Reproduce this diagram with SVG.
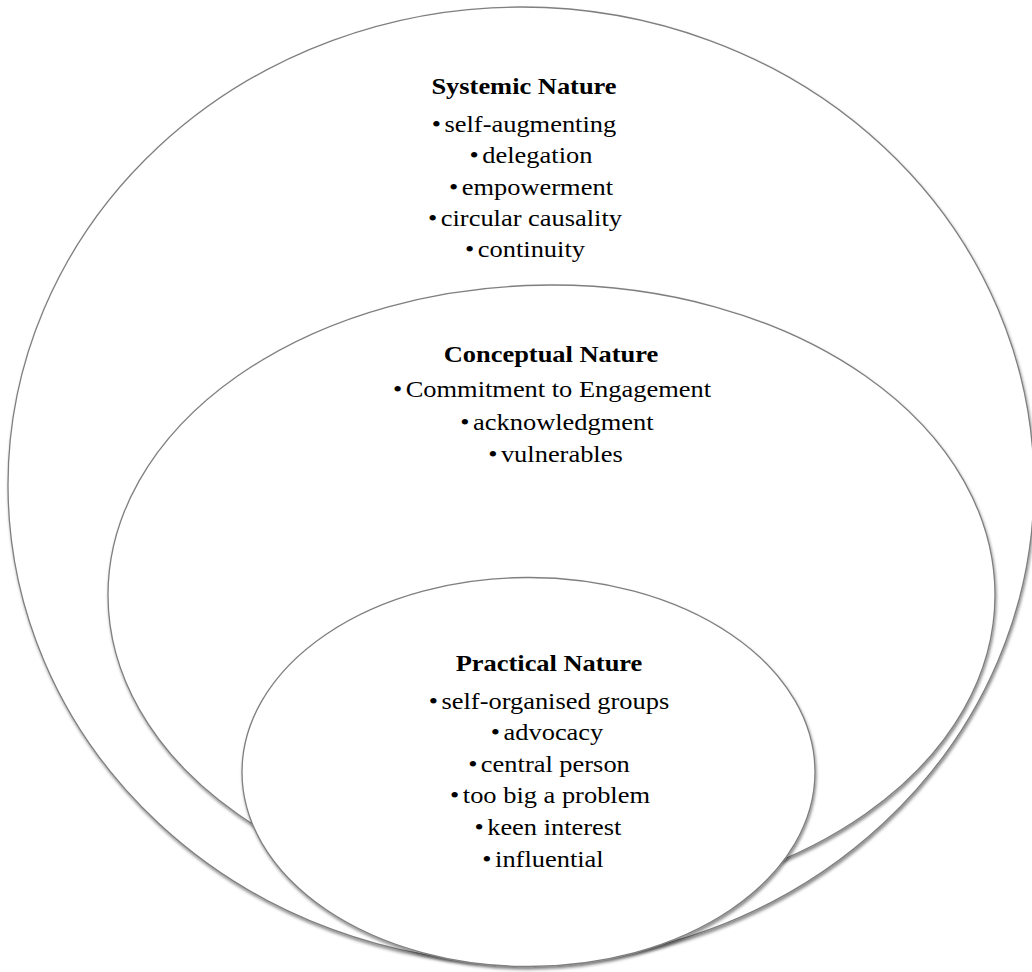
<svg xmlns="http://www.w3.org/2000/svg" width="1032" height="972" viewBox="0 0 1032 972">
  <defs>
    <filter id="shade" x="-5%" y="-5%" width="110%" height="112%">
      <feDropShadow dx="1" dy="2.5" stdDeviation="1.6" flood-color="#000" flood-opacity="0.45"/>
    </filter>
  </defs>
  <style>
    .ring { fill: #ffffff; stroke: #7f7f7f; stroke-width: 1.3; filter: url(#shade); }
    .lbl { font-family: "Liberation Serif", "Times New Roman", serif; font-size: 23px; fill: #000; text-anchor: middle; }
    .ttl { font-weight: bold; }
  </style>
  <rect width="1032" height="972" fill="#ffffff"/>

  <!-- outer ring -->
  <g id="systemic">
    <ellipse class="ring" cx="521" cy="485" rx="513" ry="478"/>
    <g transform="translate(524 0) scale(1.15 1)">
      <text class="lbl ttl" x="0" y="94">Systemic Nature</text>
      <text class="lbl" x="0" y="132">•<tspan dx="3">self-augmenting</tspan></text>
      <text class="lbl" x="6.1" y="163">•<tspan dx="3">delegation</tspan></text>
      <text class="lbl" x="6.1" y="195">•<tspan dx="3">empowerment</tspan></text>
      <text class="lbl" x="0.9" y="226">•<tspan dx="3">circular causality</tspan></text>
      <text class="lbl" x="0.9" y="257">•<tspan dx="3">continuity</tspan></text>
    </g>
  </g>

  <!-- middle ring -->
  <g id="conceptual">
    <ellipse class="ring" cx="551.5" cy="595" rx="443.5" ry="310"/>
    <g transform="translate(552 0) scale(1.15 1)">
      <text class="lbl ttl" x="-0.9" y="362">Conceptual Nature</text>
      <text class="lbl" x="0" y="397">•<tspan dx="3">Commitment to Engagement</tspan></text>
      <text class="lbl" x="4.3" y="430">•<tspan dx="3">acknowledgment</tspan></text>
      <text class="lbl" x="3" y="462">•<tspan dx="3">vulnerables</tspan></text>
    </g>
  </g>

  <!-- inner ring -->
  <g id="practical">
    <ellipse class="ring" cx="528.5" cy="772" rx="286.5" ry="194.5"/>
    <g transform="translate(549 0) scale(1.15 1)">
      <text class="lbl ttl" x="0" y="671">Practical Nature</text>
      <text class="lbl" x="0" y="709">•<tspan dx="3">self-organised groups</tspan></text>
      <text class="lbl" x="-1.7" y="740">•<tspan dx="3">advocacy</tspan></text>
      <text class="lbl" x="0" y="772">•<tspan dx="3">central person</tspan></text>
      <text class="lbl" x="0.9" y="803">•<tspan dx="3">too big a problem</tspan></text>
      <text class="lbl" x="-0.9" y="835">•<tspan dx="3">keen interest</tspan></text>
      <text class="lbl" x="-5.2" y="867">•<tspan dx="3">influential</tspan></text>
    </g>
  </g>

  <!-- no connectors in this figure -->
  <g id="connectors"/>
</svg>
